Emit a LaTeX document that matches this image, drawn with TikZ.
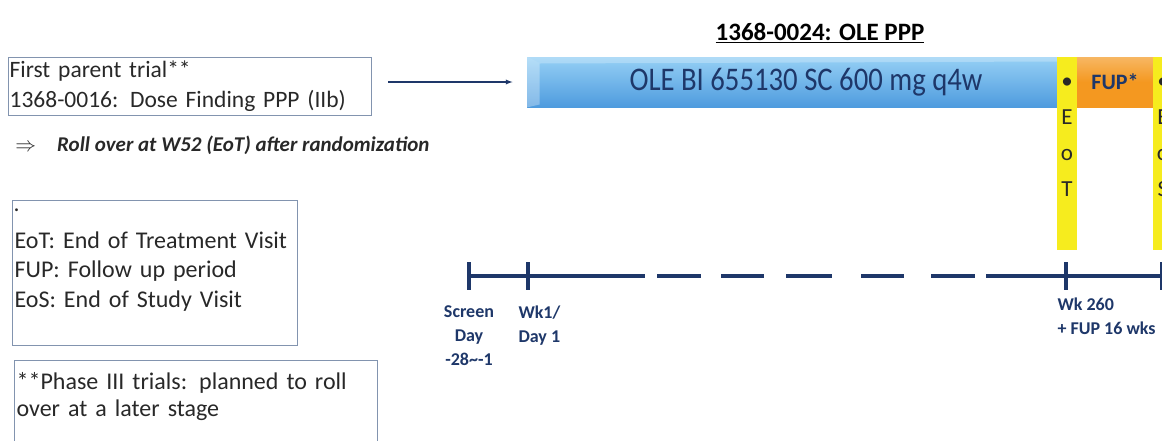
\documentclass[tikz,border=0pt]{standalone}
\usepackage{fontspec}
\setmainfont{Carlito}
\newfontfamily\narrowfont[FakeStretch=0.87]{Carlito}
\usetikzlibrary{positioning}
\definecolor{navy}{RGB}{30,55,105}
\definecolor{olelight}{RGB}{150,208,245}
\definecolor{oledark}{RGB}{78,155,222}
\definecolor{eotyellow}{RGB}{246,236,30}
\definecolor{fuporange}{RGB}{244,152,32}
\definecolor{boxedge}{RGB}{130,148,175}
\definecolor{inktext}{RGB}{40,40,40}
\begin{document}
\begin{tikzpicture}[x=1pt, y=-1pt, >=latex, line width=1pt,
  notebox/.style={draw=boxedge, line width=1.2pt, anchor=north west, align=left, text=inktext, inner xsep=2pt, font=\fontsize{24}{29.5}\selectfont},
  bar/.style={inner sep=0pt, text=navy},
  tl/.style={draw=navy, line width=4.5pt},
  tick/.style={draw=navy, line width=4pt},
  tlabel/.style={inner sep=0pt, text=navy, font=\bfseries\fontsize{18}{24}\selectfont}]
  \useasboundingbox (0,0) rectangle (1162,440);
  \clip (0,0) rectangle (1162,440);

  \node[notebox, minimum width=363pt, minimum height=58pt, text width=361pt, inner xsep=1pt, font=\fontsize{23.5}{30}\selectfont] (parent) at (8,57) {First parent trial**\\1368-0016: Dose Finding PPP (IIb)};
  \node[anchor=west, inner sep=0pt, text=inktext, font=\fontsize{21}{24}\selectfont] (rollover) at (15,145) {$\Rightarrow$\hspace{21pt}\textbf{\textit{Roll over at W52 (EoT) after randomization}}};
  \node[notebox, minimum width=285pt, minimum height=145pt, text width=281pt] (abbr) at (12,200) {{\footnotesize\textbullet}\\[6pt]EoT: End of Treatment Visit\\FUP: Follow up period\\EoS: End of Study Visit\\ \mbox{}};
  \node[notebox, minimum width=363pt, minimum height=95pt, text width=359pt, font=\fontsize{24}{27}\selectfont] (phase) at (14,360) {**Phase III trials: planned to roll\\over at a later stage\\ \mbox{}};

  \node[inner sep=0pt, font=\bfseries\fontsize{25}{28}\selectfont] (title) at (820,33) {\underline{1368-0024: OLE PPP}};
  \node[bar, minimum width=530pt, minimum height=50pt, top color=olelight, bottom color=oledark, font=\narrowfont\fontsize{33}{36}\selectfont] (ole) at (792,82) {\hspace{28pt}OLE BI 655130 SC 600 mg q4w};
  \fill[white, opacity=.3] (ole.north west) -- ([xshift=13pt, yshift=-7pt]ole.north west) -- ([xshift=13pt, yshift=3pt]ole.south west) -- (ole.south west) -- cycle;
  \fill[white, opacity=.25] (ole.north west) -- (ole.north east) -- ([yshift=-5pt]ole.north east) -- ([xshift=13pt, yshift=-7pt]ole.north west) -- cycle;
  \node[bar, minimum width=76pt, minimum height=50pt, top color=fuporange!70!white, bottom color=fuporange, middle color=fuporange, font=\bfseries\fontsize{22}{24}\selectfont] (fup) at (1115,82) {FUP*};
  \node[bar, minimum width=20pt, minimum height=193pt, fill=eotyellow] (eot) at (1067,153.5) {};
  \node[bar, minimum width=20pt, minimum height=193pt, fill=eotyellow] (eos) at (1163,153.5) {};
  \node[inner sep=0pt, align=center, text=inktext, font=\fontsize{23}{36}\selectfont, below=21pt of eot.north] (eotletters) {\textbullet\\E\\o\\T};
  \node[inner sep=0pt, align=center, text=inktext, font=\fontsize{23}{36}\selectfont, below=21pt of eos.north] (eosletters) {\textbullet\\E\\o\\S};

  \draw[->, draw=navy, line width=1.3pt, shorten <=16pt, shorten >=14pt] (parent.east |- ole.west) -- (ole.west);

  \coordinate (tscreen) at (469,276);
  \coordinate (twk1) at (528,276);
  \coordinate (twk260) at (1066,276);
  \coordinate (tend) at (1162,276);
  \coordinate (gapleft) at (645,276);
  \coordinate (gapright) at (986,276);
  \draw[tl] (tscreen) -- (gapleft);
  \foreach \a/\b in {657/701, 721/764, 786/832, 861/904, 931/975}
    \draw[tl] (\a,276) -- (\b,276);
  \draw[tl] (gapright) -- (tend) -- ++(10,0);
  \foreach \t in {tscreen, twk1, twk260, tend}
    \draw[tick] ([yshift=14pt]\t) -- ([yshift=-14pt]\t);

  \node[tlabel, align=center, below=29pt of tscreen] (screenlbl) {Screen\\Day\\-28\textasciitilde{}-1};
  \node[tlabel, align=left, anchor=north west, below right=29pt and -10pt of twk1] (wk1lbl) {Wk1/\\Day 1};
  \node[tlabel, align=left, anchor=north west, below right=21pt and -9pt of twk260] (wk260lbl) {Wk 260\\+ FUP 16 wks};
\end{tikzpicture}
\end{document}
